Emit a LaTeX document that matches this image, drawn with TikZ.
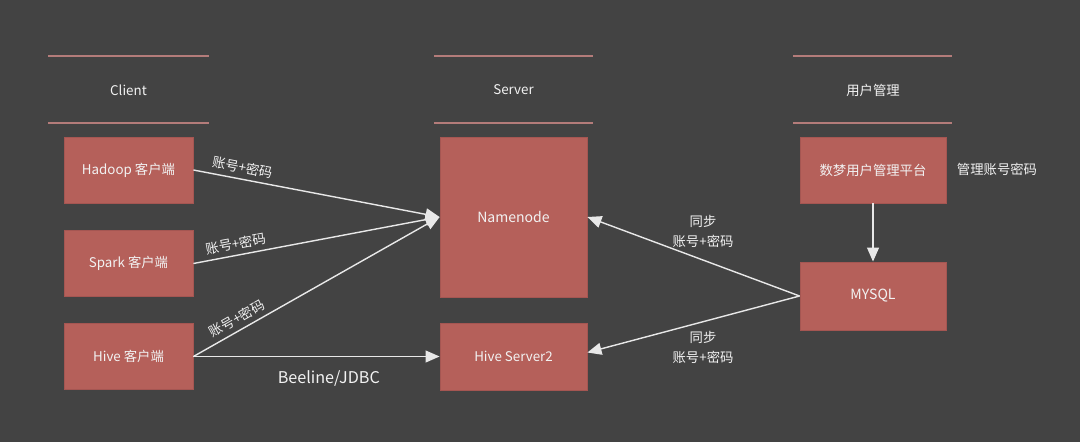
\documentclass[tikz,border=0pt]{standalone}
\usepackage{fontspec}
\setmainfont{Noto Sans CJK SC}
\usetikzlibrary{arrows.meta}
\definecolor{bgcolor}{RGB}{67,67,67}
\definecolor{boxred}{RGB}{181,96,90}
\definecolor{boxedge}{RGB}{165,86,82}
\definecolor{rulepink}{RGB}{180,124,122}
\definecolor{textwhite}{RGB}{242,242,242}
\definecolor{arrowwhite}{RGB}{232,232,232}
\begin{document}
\begin{tikzpicture}[thick,
        box node/.style={rectangle,draw=boxedge,line width=0.6pt,fill=boxred,text=textwhite,font=\fontsize{9.5}{11}\selectfont,minimum width=3.225cm,minimum height=1.65cm,inner sep=0pt},
        title node/.style={text=textwhite,font=\fontsize{9.5}{11}\selectfont},
        header line/.style={draw=rulepink,line width=1.4pt},
        flow/.style={draw=arrowwhite,line width=1pt,-{Triangle[length=10pt,width=8.5pt,fill=arrowwhite]}},
        label node/.style={text=textwhite,font=\fontsize{9.5}{14}\selectfont,align=center}]
        \fill[bgcolor] (0, 0) rectangle (27, 11.05);
        \useasboundingbox (0, 0) rectangle (27, 11.05);

        % column headers
        \draw[header line] (1.2, 9.65) -- (5.225, 9.65) (1.2, 7.975) -- (5.225, 7.975);
        \draw[header line] (10.85, 9.65) -- (14.825, 9.65) (10.85, 7.975) -- (14.825, 7.975);
        \draw[header line] (19.825, 9.65) -- (23.8, 9.65) (19.825, 7.975) -- (23.8, 7.975);
        \node[title node] at (3.2125, 8.8) (client) {Client};
        \node[title node] at (12.8375, 8.8) (server) {Server};
        \node[title node] at (21.825, 8.8) (usermgmt) {用户管理};

        \node[box node] at (3.2125, 6.8) (hadoop) {Hadoop 客户端};
        \node[box node] at (3.2125, 4.4625) (spark) {Spark 客户端};
        \node[box node] at (3.2125, 2.1375) (hive) {Hive 客户端};
        \node[box node, minimum width=3.675cm, minimum height=4cm, font=\fontsize{10}{12}\selectfont] at (12.8375, 5.625) (namenode) {Namenode};
        \node[box node, minimum width=3.675cm, minimum height=1.675cm] at (12.8375, 2.1375) (hiveserver) {Hive Server2};
        \node[box node, minimum width=3.65cm] at (21.825, 6.8) (platform) {数梦用户管理平台};
        \node[box node, minimum width=3.65cm, minimum height=1.7cm, font=\fontsize{10}{12}\selectfont] at (21.825, 3.65) (mysql) {MYSQL};
        \node[label node] at (24.925, 6.825) (manage) {管理账号密码};

        \path[every edge/.style={flow}, every node/.style={label node}]
            (hadoop.east) edge node[sloped, above, pos=0.19] {账号+密码} (namenode.west)
            (spark.east) edge node[sloped, above, pos=0.18] {账号+密码} (namenode.west)
            (hive.east) edge node[sloped, above, pos=0.2] {账号+密码} (namenode.west)
            (hive.east) edge node[below=6pt, pos=0.55, font=\fontsize{11.5}{13}\selectfont] {Beeline/JDBC} (hiveserver.west)
            (platform.south) edge (mysql.north)
            (mysql.west) edge node[above=5pt, pos=0.455] {同步\\账号+密码} (namenode.east)
            (mysql.west) edge node[below=3pt, pos=0.455] {同步\\账号+密码} ([yshift=0.1cm]hiveserver.east)
            ;
\end{tikzpicture}
\end{document}
